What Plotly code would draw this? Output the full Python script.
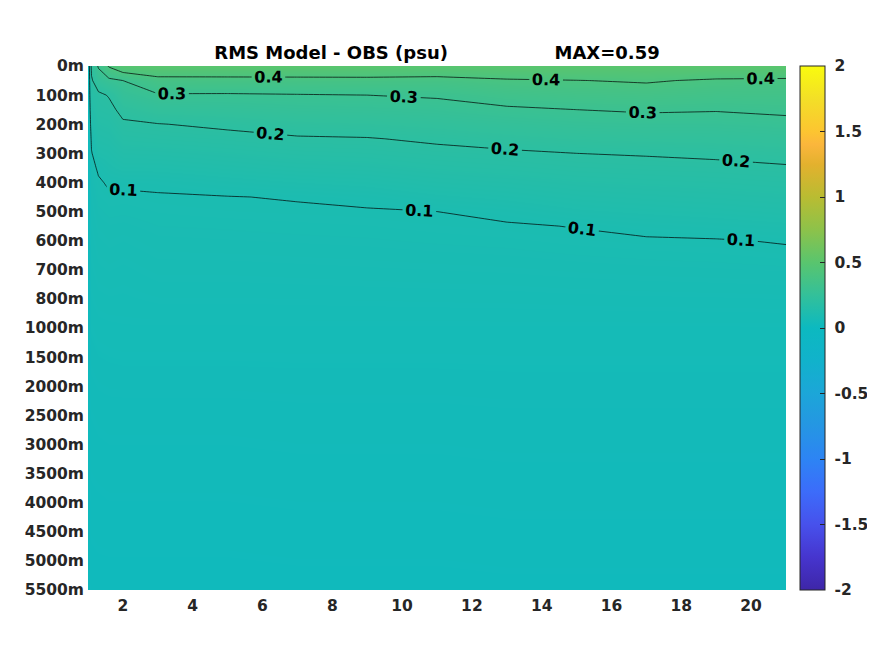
import plotly.graph_objects as go

# ---- data ----
x_pos = [1, 1.1, 1.3, 1.6, 2, 3, 5, 7, 9, 11, 13, 15, 17, 19, 21]
depth_idx = [0, 0.5, 1, 1.5, 2, 2.5, 3, 3.5, 4, 4.5, 5, 5.5, 6, 7, 9, 12, 15, 18]
depth_labels = ["0m", "100m", "200m", "300m", "400m", "500m", "600m", "700m",
                "800m", "1000m", "1500m", "2000m", "2500m", "3000m", "3500m",
                "4000m", "4500m", "5000m", "5500m"]
x_ticks = [2, 4, 6, 8, 10, 12, 14, 16, 18, 20]
contour_step = 0.1
contour_top = 0.4          # highest labelled contour (0.1, 0.2, 0.3, 0.4 drawn)
cbar_ticks = [-2, -1.5, -1, -0.5, 0, 0.5, 1, 1.5, 2]
max_value = 0.59

# RMS (psu) profiles, one list per x position (top -> bottom, at depth_idx)
rms_x1 = [0.02] * 18
rms_x1_1 = [0.22, 0.19, 0.17, 0.15, 0.13, 0.11, 0.097, 0.09, 0.085, 0.08, 0.077, 0.074, 0.071, 0.066, 0.055, 0.042, 0.033, 0.024]
rms_x1_3 = [0.31, 0.25, 0.185, 0.175, 0.16, 0.145, 0.13, 0.105, 0.096, 0.092, 0.087, 0.083, 0.079, 0.072, 0.058, 0.044, 0.034, 0.025]
rms_x1_6 = [0.41, 0.28, 0.205, 0.18, 0.165, 0.15, 0.135, 0.12, 0.104, 0.096, 0.091, 0.086, 0.082, 0.074, 0.059, 0.045, 0.035, 0.025]
rms_x2 = [0.48, 0.30, 0.26, 0.22, 0.19, 0.17, 0.15, 0.13, 0.105, 0.095, 0.09, 0.085, 0.08, 0.072, 0.06, 0.045, 0.035, 0.025]
rms_x3 = [0.50, 0.365, 0.293, 0.244, 0.198, 0.175, 0.152, 0.13, 0.107, 0.097, 0.093, 0.089, 0.085, 0.077, 0.06, 0.045, 0.035, 0.025]
rms_x5 = [0.50, 0.367, 0.292, 0.251, 0.211, 0.183, 0.161, 0.139, 0.117, 0.099, 0.095, 0.09, 0.086, 0.077, 0.06, 0.045, 0.035, 0.025]
rms_x7 = [0.50, 0.369, 0.296, 0.261, 0.226, 0.194, 0.171, 0.148, 0.125, 0.102, 0.096, 0.0915, 0.087, 0.078, 0.06, 0.046, 0.036, 0.026]
rms_x9 = [0.50, 0.371, 0.30, 0.265, 0.231, 0.197, 0.175, 0.153, 0.131, 0.109, 0.097, 0.0926, 0.088, 0.079, 0.06, 0.046, 0.036, 0.026]
rms_x11 = [0.49, 0.367, 0.308, 0.273, 0.241, 0.209, 0.185, 0.164, 0.143, 0.121, 0.10, 0.095, 0.09, 0.08, 0.06, 0.046, 0.036, 0.026]
rms_x13 = [0.50, 0.389, 0.336, 0.289, 0.255, 0.222, 0.192, 0.171, 0.15, 0.129, 0.108, 0.097, 0.0915, 0.081, 0.06, 0.047, 0.037, 0.027]
rms_x15 = [0.50, 0.398, 0.349, 0.30, 0.267, 0.233, 0.20, 0.18, 0.16, 0.14, 0.121, 0.101, 0.0945, 0.083, 0.06, 0.047, 0.037, 0.027]
rms_x17 = [0.50, 0.409, 0.356, 0.308, 0.272, 0.238, 0.204, 0.184, 0.165, 0.146, 0.127, 0.109, 0.0967, 0.0845, 0.06, 0.047, 0.037, 0.027]
rms_x19 = [0.50, 0.3875, 0.346, 0.304, 0.272, 0.241, 0.21, 0.187, 0.169, 0.151, 0.132, 0.114, 0.098, 0.0855, 0.06, 0.047, 0.037, 0.027]
rms_x21 = [0.50, 0.383, 0.348, 0.313, 0.281, 0.25, 0.22, 0.194, 0.175, 0.157, 0.139, 0.12, 0.102, 0.087, 0.06, 0.047, 0.037, 0.027]

profiles = [rms_x1, rms_x1_1, rms_x1_3, rms_x1_6, rms_x2, rms_x3, rms_x5, rms_x7,
            rms_x9, rms_x11, rms_x13, rms_x15, rms_x17, rms_x19, rms_x21]
z = [[p[i] for p in profiles] for i in range(len(depth_idx))]

parula = [
    [0.0, "#3E26A8"], [0.0625, "#4635CE"], [0.125, "#4751EC"], [0.1875, "#3C6CFA"],
    [0.25, "#2D84F4"], [0.3125, "#2596E3"], [0.375, "#1CA6D8"], [0.4375, "#11B2CB"],
    [0.5, "#0CB9C0"], [0.5625, "#33C09A"], [0.625, "#59C56E"], [0.6875, "#8DC24A"],
    [0.75, "#B9BC32"], [0.8125, "#E3B12E"], [0.85, "#FBB63C"], [0.875, "#FCC531"],
    [0.9375, "#F3DF27"], [1.0, "#F9FB0E"],
]

FONT = "DejaVu Sans"
TXT = "#262626"

fig = go.Figure()
# smooth colour field
fig.add_trace(go.Heatmap(
    x=x_pos, y=depth_idx, z=z, zsmooth="best",
    colorscale=parula, zmin=-2, zmax=2, zauto=False,
    colorbar=dict(
        x=1.0201, xanchor="left", xpad=0, y=0.5, yanchor="middle", len=1, lenmode="fraction",
        ypad=0, thickness=25, outlinecolor=TXT, outlinewidth=1,
        tickmode="array", tickvals=cbar_ticks,
        ticktext=["\u00a0" + str(v) for v in cbar_ticks],
        ticks="inside", ticklen=5, tickcolor=TXT,
        tickfont=dict(family=FONT, size=15.5, color=TXT, weight="bold"),
    ),
    hoverinfo="skip",
))
# contour lines with labels; the level list reaches far below the data range
# (those levels have no line) so plotly spaces several labels along each line
fig.add_trace(go.Contour(
    x=x_pos, y=depth_idx, z=z, showscale=False,
    contours=dict(coloring="none", start=contour_top - 69 * contour_step, end=contour_top,
                  size=contour_step, showlines=True, showlabels=True,
                  labelformat=".1f",
                  labelfont=dict(family=FONT, size=16, color="black", weight="bold")),
    line=dict(color="black", width=0.7, smoothing=0),
    hoverinfo="skip",
))

fig.update_layout(
    width=875, height=656,
    margin=dict(l=80, r=97, t=58, b=74, autoexpand=False),
    paper_bgcolor="white", plot_bgcolor="white",
    title=dict(text="RMS Model - OBS (psu)" + "\u00a0" * 17 + "MAX=" + f"{max_value:.2f}",
               x=0.5, xref="paper", xanchor="center", y=1, yref="paper", yanchor="bottom",
               pad=dict(b=7),
               font=dict(family=FONT, size=18, color="black", weight="bold")),
    xaxis=dict(range=[1, 21], tickmode="array", tickvals=x_ticks,
               ticktext=[str(v) for v in x_ticks], ticks="", showgrid=False,
               zeroline=False, showline=False, ticklabelstandoff=4,
               tickfont=dict(family=FONT, size=15.5, color=TXT, weight="bold")),
    yaxis=dict(range=[18, 0], tickmode="array", tickvals=list(range(len(depth_labels))),
               ticktext=depth_labels, ticks="", showgrid=False, zeroline=False,
               showline=False, ticklabelstandoff=3,
               tickfont=dict(family=FONT, size=15.5, color=TXT, weight="bold")),
    yaxis2=dict(range=[18, 0], overlaying="y", side="right", anchor="x",
                tickmode="array", tickvals=list(range(len(depth_labels))),
                ticks="inside", ticklen=3, tickcolor=TXT, showticklabels=False,
                showline=True, linecolor=TXT, linewidth=1, showgrid=False, zeroline=False),
)

fig.write_html("out.html")
